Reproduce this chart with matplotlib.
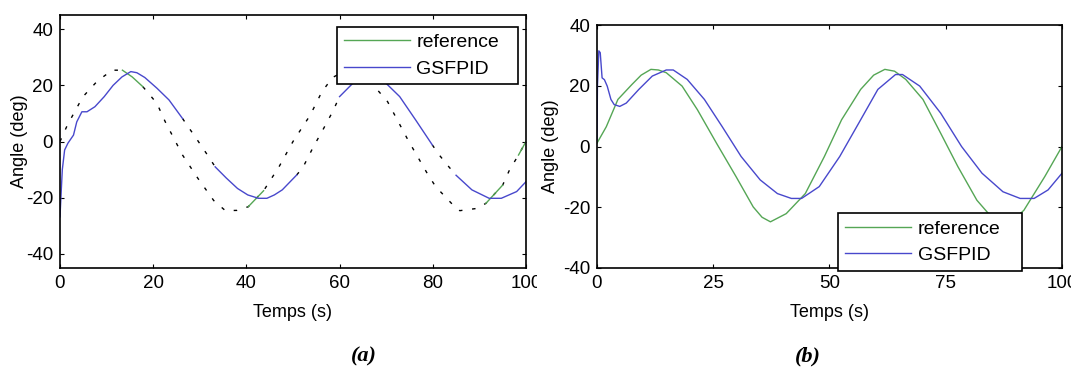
import numpy as np
import matplotlib
matplotlib.use("Agg")
import matplotlib.pyplot as plt
from matplotlib.patches import Rectangle

plt.rcParams["font.family"] = ["Liberation Sans", "DejaVu Sans"]
plt.rcParams["axes.unicode_minus"] = False

# ---------------- data: panel (a) ----------------
t_ref_a = [0, 1.6, 4.9, 8, 11.2, 13.4, 15.5, 17.8, 20.8, 22.6, 26.3, 29.6, 33, 35.5,
           38, 40.4, 43.7, 47, 50, 53.7, 56.2, 58.5, 61, 63.5, 66.5, 70.3, 74.7,
           78.8, 80.6, 84.7, 85.8, 89.5, 91.4, 95, 96.5, 98.4, 100]
ang_ref_a = [0, 5.9, 15.9, 21.5, 25.4, 25.4, 23, 19.5, 13.6, 7, -4.8, -13.1, -21, -24.6,
             -24.5, -23.2, -17.5, -9, 0, 9.4, 17.7, 22.8, 25, 24.5, 21.5, 14.2, 0.5,
             -11.3, -16, -23.2, -24.6, -23.8, -22, -15.5, -10, -4.8, 0]
# time spans where the reference trace is printed in colour
ref_colour_spans_a = [(13.4, 17.8), (40.4, 43.7), (91.4, 95.0), (98.4, 100.0)]

t_gs_a = [0, 0.2, 0.5, 1.0, 1.7, 2.9, 3.6, 4.7, 5.8, 7.5, 9.5, 11.4, 13.3, 15.2, 16.5,
          18.2, 20.8, 23.4, 26.3, 27, 29.5, 31.9, 33.3, 35.7, 38.1, 40.3, 42.6, 44.4,
          46, 47.7, 50.8, 52.2, 54.4, 56.2, 58.5, 60, 63, 66, 69.5, 72.9, 76.4, 79.9,
          81.4, 83.2, 85, 88.4, 92.1, 94.7, 98, 100]
ang_gs_a = [-26.8, -20, -10, -3, -0.6, 2.3, 7, 10.6, 10.6, 12.4, 16, 20, 23, 24.9, 24.5,
            22.8, 19, 14.8, 8.2, 6.5, 0.5, -5.4, -9, -13, -16.7, -19, -20.2, -20.2,
            -19, -17.2, -11.9, -9, -1.8, 3.5, 10.6, 16, 21, 24, 21.5, 16, 7.5, -1.2,
            -4.8, -8.5, -12, -17.2, -20.2, -20.2, -17.8, -14.3]
# time spans where the GSFPID trace is only dotted
gs_dotted_spans_a = [(26.3, 33.3), (50.8, 60.0), (79.9, 85.0)]

# ---------------- data: panel (b) ----------------
t_ref_b = [0, 2, 4.5, 7.5, 9.5, 11.6, 13.2, 14.9, 18.3, 21.6, 25.7, 29.9, 33.6, 35.5,
           37.3, 40.7, 44.8, 48.9, 52.6, 56.7, 59.5, 61.9, 64, 66.4, 70.1, 73.9, 77.6,
           81.7, 85, 87.5, 89.8, 91.8, 96.3, 100]
ang_ref_b = [1.1, 6.5, 15.5, 20.4, 23.5, 25.4, 25.2, 24.3, 19.9, 12.1, 1.1, -9.9, -19.9,
             -23.3, -24.8, -22.1, -15.5, -3.3, 8.8, 18.8, 23.5, 25.4, 24.8, 22.1, 15.5,
             4.4, -6.6, -17.7, -23.5, -25, -23.8, -21, -9.9, 0]

t_gs_b = [0, 0.1, 0.4, 0.7, 1.1, 1.6, 2.2, 3.0, 3.7, 4.9, 6.3, 9.0, 11.9, 14.9, 16.4,
          19.4, 23.1, 26.9, 31.0, 35.1, 38.8, 41.8, 44.0, 47.8, 52.2, 56.7, 60.4, 64.2,
          65.7, 69.4, 73.9, 78.4, 82.8, 87.3, 91.0, 94.0, 97.0, 100]
ang_gs_b = [2.2, 19.8, 31.5, 30.9, 22.6, 22.0, 19.9, 15.5, 13.8, 13.2, 14.3, 18.8, 23.2,
            25.2, 25.2, 22.1, 15.5, 6.6, -3.3, -11.0, -15.5, -17.1, -17.1, -13.2, -3.3,
            8.8, 18.8, 23.7, 23.7, 19.9, 11.0, 0.0, -8.8, -14.9, -17.1, -17.1, -14.3, -8.8]

xticks_a = [0, 20, 40, 60, 80, 100]
xticks_b = [0, 25, 50, 75, 100]
yticks = [-40, -20, 0, 20, 40]
series_names = ["reference", "GSFPID"]
x_label = "Temps (s)"
y_label = "Angle (deg)"
captions = ["(a)", "(b)"]

GREEN = "#55a655"
BLUE = "#4848cc"


def in_spans(t, spans):
    t = np.asarray(t, float)
    m = np.zeros_like(t, dtype=bool)
    for lo, hi in spans:
        m |= (t >= lo - 1e-9) & (t <= hi + 1e-9)
    return m


def strictly_in_spans(t, spans):
    t = np.asarray(t, float)
    m = np.zeros_like(t, dtype=bool)
    for lo, hi in spans:
        m |= (t > lo + 1e-9) & (t < hi - 1e-9)
    return m


def masked(y, keep):
    y = np.asarray(y, float).copy()
    y[~keep] = np.nan
    return y


def style_axes(ax, xticks, ylim):
    ax.set_xlim(0, 100)
    ax.set_ylim(*ylim)
    ax.set_xticks(xticks)
    ax.set_yticks(yticks)
    ax.tick_params(direction="in", length=3, width=0.8, top=True, right=True,
                   labelsize=13.5, pad=5, colors="black")
    for s in ax.spines.values():
        s.set_linewidth(1.2)
        s.set_color("black")
    ax.set_xlabel(x_label, fontsize=13)
    ax.set_ylabel(y_label, fontsize=13)


fig = plt.figure(figsize=(10.71, 3.67), dpi=100)
ax_a = fig.add_axes([0.056, 0.2698, 0.4351, 0.689])
ax_b = fig.add_axes([0.5574, 0.2698, 0.4342, 0.662])

dots = dict(color="black", lw=1.0, linestyle=(0, (2.5, 7)))

# ---- panel (a)
ta_r = np.asarray(t_ref_a)
ref_col = in_spans(ta_r, ref_colour_spans_a)
ref_blk = ~strictly_in_spans(ta_r, ref_colour_spans_a)
ax_a.plot(ta_r, masked(ang_ref_a, ref_blk), **dots)
ax_a.plot(ta_r, masked(ang_ref_a, ref_col), color=GREEN, lw=1.0, label=series_names[0])

ta_g = np.asarray(t_gs_a)
gs_blk = in_spans(ta_g, gs_dotted_spans_a)
gs_col = ~strictly_in_spans(ta_g, gs_dotted_spans_a)
ax_a.plot(ta_g, masked(ang_gs_a, gs_blk), **dots)
ax_a.plot(ta_g, masked(ang_gs_a, gs_col), color=BLUE, lw=1.0, label=series_names[1])

style_axes(ax_a, xticks_a, (-45, 45))
ax_a.yaxis.set_label_coords(-0.069, 0.5)
ax_a.xaxis.set_label_coords(0.5, -0.142)

leg_kw = dict(fontsize=14, frameon=True, fancybox=False, framealpha=1,
              edgecolor="black", borderaxespad=0, handlelength=3.4,
              handletextpad=0.35, labelspacing=0.45, borderpad=0.35, mode="expand")
la = ax_a.legend(loc="upper left", bbox_to_anchor=(0.594, 0.654, 0.388, 0.3), **leg_kw)
la.get_frame().set_linewidth(1.2)

# ---- panel (b)
ax_b.plot(t_ref_b, ang_ref_b, color=GREEN, lw=1.0, label=series_names[0])
ax_b.plot(t_gs_b, ang_gs_b, color=BLUE, lw=1.0, label=series_names[1])
style_axes(ax_b, xticks_b, (-40, 40))
ax_b.yaxis.set_label_coords(-0.082, 0.5)
ax_b.xaxis.set_label_coords(0.5, -0.148)
lb = ax_b.legend(loc="lower left", bbox_to_anchor=(0.518, -0.012, 0.397, 0.3), **leg_kw)
lb.get_frame().set_linewidth(1.2)
lb.set_zorder(5)

# the left panel's last tick label is cut off at the panel boundary
fig.patches.append(Rectangle((537 / 1071, 0.18), 18 / 1071, 0.08,
                             transform=fig.transFigure, facecolor="white",
                             edgecolor="none", zorder=10))

fig.text(364 / 1071, 1 - 356 / 367, captions[0], ha="center", va="center",
         fontsize=16, fontweight="bold", fontstyle="italic",
         family=["Liberation Serif", "DejaVu Serif"])
fig.text(808 / 1071, 1 - 356 / 367, captions[1], ha="center", va="center",
         fontsize=16, fontweight="bold", fontstyle="italic",
         family=["Liberation Serif", "DejaVu Serif"])

fig.savefig("out.png", dpi=100)
